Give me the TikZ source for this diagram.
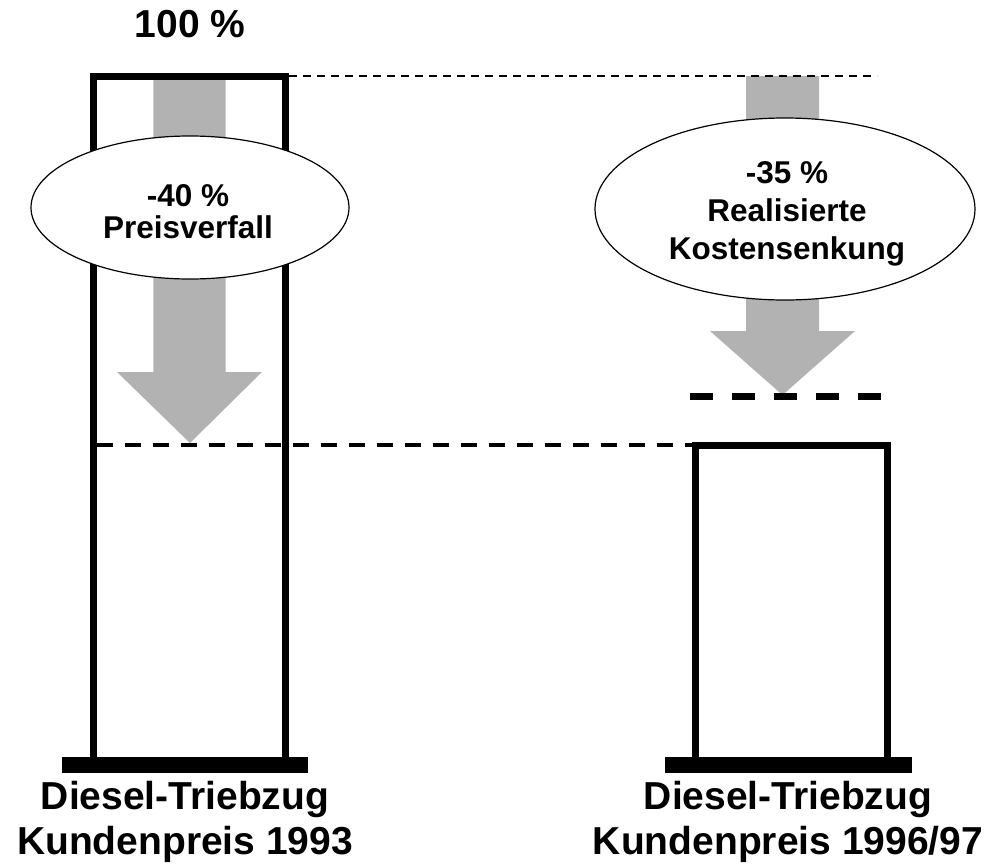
\documentclass[tikz,border=0pt]{standalone}
\usepackage{fontspec}
\setmainfont{Liberation Sans}
\usetikzlibrary{shapes.geometric}
\definecolor{arrowgray}{gray}{0.70}
\begin{document}
\begin{tikzpicture}[x=1pt,y=-1pt,
  barline/.style={line width=7pt, line join=miter},
  basebar/.style={fill=black, draw=none, inner sep=0pt, minimum height=15.7pt},
  drop/.style={fill=arrowgray, draw=none},
  bubble/.style={ellipse, draw, line width=1.2pt, fill=white, inner sep=0pt},
  bubbletext/.style={align=center, inner sep=0pt},
  caption/.style={align=center, font=\bfseries\fontsize{39}{45}\selectfont},
  thindash/.style={line width=2pt, dash pattern=on 8pt off 6pt},
  middash/.style={line width=4pt, dash pattern=on 16pt off 12pt},
  thickdash/.style={line width=7pt, dash pattern=on 23pt off 19pt}]
\useasboundingbox (0,0) rectangle (1005,865);

% --- columns: left (1993), right (1996/97)
\coordinate (L-bl) at (93,760);
\coordinate (L-tl) at (93,76.7);
\coordinate (L-tr) at (285,76.7);
\coordinate (L-br) at (285,760);
\coordinate (R-bl) at (695.5,760);
\coordinate (R-tl) at (695.5,445);
\coordinate (R-tr) at (887,445);
\coordinate (R-br) at (887,760);

\draw[barline] (L-bl) -- (L-tl) -- (L-tr) -- (L-br);
\draw[barline] (R-bl) -- (R-tl) -- (R-tr) -- (R-br);

\node[basebar, minimum width=246.6pt] (L-base) at (185,764.85) {};
\node[basebar, minimum width=246.7pt] (R-base) at (788.35,764.85) {};

% --- grey reduction arrows
\fill[drop] (153.3,80) -- (225.7,80) -- (225.7,372) -- (262,372)
  -- (190,443) -- (117,372) -- (153.3,372) -- cycle;
\fill[drop] (746,76) -- (819,76) -- (819,331) -- (855,331)
  -- (782.5,395) -- (710,331) -- (746,331) -- cycle;

% --- reference levels
\coordinate (top-a) at (289,76);
\coordinate (top-b) at (877,76);
\coordinate (low-a) at (97,445);
\coordinate (low-b) at (692,445);
\coordinate (tgt-a) at (690,396.5);
\coordinate (tgt-b) at (882,396.5);
\draw[thindash] (top-a) -- (top-b);
\draw[middash] (low-a) -- (low-b);
\draw[thickdash] (tgt-a) -- (tgt-b);

% --- labels in ellipses
\node[bubble, minimum width=318pt, minimum height=143pt] (E1) at (190,207.5) {};
\node[bubbletext, font=\bfseries\fontsize{31.5}{32}\selectfont] (T1) at (188,212)
  {-40 \%\\Preisverfall};
\node[bubble, minimum width=380pt, minimum height=182pt] (E2) at (785,209) {};
\node[bubbletext, font=\bfseries\fontsize{31.5}{38}\selectfont] (T2) at (787,214)
  {-35 \%\\Realisierte\\Kostensenkung};

% --- captions
\node[font=\bfseries\fontsize{39}{44}\selectfont] (pct) at (190,24) {100 \%};
\node[caption] (C1) at (185,822) {Diesel-Triebzug\\Kundenpreis 1993};
\node[caption] (C2) at (788,822) {Diesel-Triebzug\\Kundenpreis 1996/97};
\end{tikzpicture}
\end{document}
